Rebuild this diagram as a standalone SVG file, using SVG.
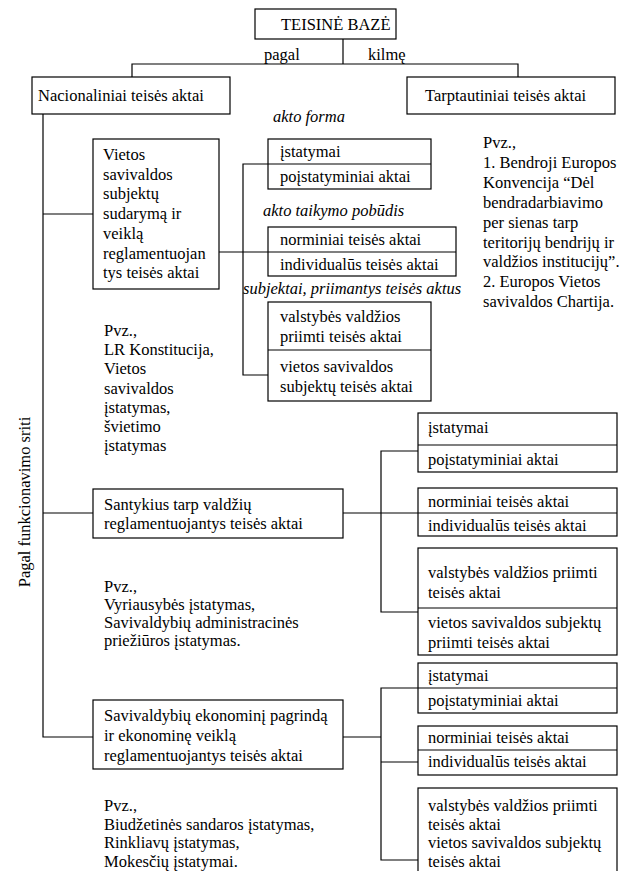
<svg xmlns="http://www.w3.org/2000/svg" width="620" height="871" viewBox="0 0 620 871">
<style>
text{font-family:"Liberation Serif","Times New Roman",serif;font-size:16.5px;fill:#000}
.i{font-style:italic}
.b{fill:#fff;stroke:#000;stroke-width:1.2}
.l{fill:none;stroke:#000;stroke-width:1.2}
</style>
<rect width="620" height="871" fill="#fff"/>
<g id="connectors" class="l">
<path d="M343,39 V64"/>
<path d="M132,77 V64 H518 V77"/>
<path d="M43,114 V737 H93"/>
<path d="M43,214 H93"/>
<path d="M43,513 H93"/>
<path d="M219,252 H268"/>
<path d="M268,164 H243 V375 H268"/>
<path d="M343,513 H418"/>
<path d="M418,451 H381 V612 H418"/>
<path d="M343,737 H381"/>
<path d="M418,688 H381 V860 H418"/>
<path d="M381,762 H418"/>
</g>
<g id="labels">
<text x="264" y="60">pagal</text>
<text x="368" y="60">kilmę</text>
<text class="i" x="273" y="122">akto forma</text>
<text class="i" x="263" y="216">akto taikymo pobūdis</text>
<text class="i" x="243" y="294">subjektai, priimantys teisės aktus</text>
<text transform="translate(30,502) rotate(-90)" text-anchor="middle">Pagal funkcionavimo sriti</text>
</g>
<g id="root"><rect class="b" x="255" y="9" width="141" height="30"/><text x="281" y="30">TEISINĖ BAZĖ</text></g>
<g id="nacionaliniai"><rect class="b" x="32" y="77" width="198" height="37"/><text x="38" y="101">Nacionaliniai teisės aktai</text></g>
<g id="tarptautiniai"><rect class="b" x="407" y="77" width="208" height="37"/><text x="425" y="101">Tarptautiniai teisės aktai</text></g>
<g id="vietos"><rect class="b" x="93" y="139" width="126" height="150"/>
<text x="103" y="160">Vietos<tspan x="103" dy="19.7">savivaldos</tspan><tspan x="103" dy="19.7">subjektų</tspan><tspan x="103" dy="19.7">sudarymą ir</tspan><tspan x="103" dy="19.7">veiklą</tspan><tspan x="103" dy="19.7">reglamentuojan</tspan><tspan x="103" dy="19.7">tys teisės aktai</tspan></text></g>
<g id="g1-forma"><rect class="b" x="268" y="139" width="163" height="50"/><path class="l" d="M268,164 H431"/>
<text x="280" y="157">įstatymai</text><text x="280" y="182">poįstatyminiai aktai</text></g>
<g id="g1-taikymas"><rect class="b" x="268" y="227" width="188" height="49"/><path class="l" d="M268,252 H456"/>
<text x="280" y="245">norminiai teisės aktai</text><text x="280" y="270">individualūs teisės aktai</text></g>
<g id="g1-subjektai"><rect class="b" x="268" y="302" width="163" height="99"/><path class="l" d="M268,350 H431"/>
<text x="280" y="322">valstybės valdžios<tspan x="280" dy="20">priimti teisės aktai</tspan></text>
<text x="280" y="372">vietos savivaldos<tspan x="280" dy="20">subjektų teisės aktai</tspan></text></g>
<g id="pvz-tarpt"><text x="483" y="148">Pvz.,<tspan x="483" dy="19.9">1. Bendroji Europos</tspan><tspan x="483" dy="19.9">Konvencija “Dėl</tspan><tspan x="483" dy="19.9">bendradarbiavimo</tspan><tspan x="483" dy="19.9">per sienas tarp</tspan><tspan x="483" dy="19.9">teritorijų bendrijų ir</tspan><tspan x="483" dy="19.9">valdžios institucijų”.</tspan><tspan x="483" dy="19.9">2. Europos Vietos</tspan><tspan x="483" dy="19.9">savivaldos Chartija.</tspan></text></g>
<g id="pvz-1"><text x="104" y="336">Pvz.,<tspan x="104" dy="19.2">LR Konstitucija,</tspan><tspan x="104" dy="19.2">Vietos</tspan><tspan x="104" dy="19.2">savivaldos</tspan><tspan x="104" dy="19.2">įstatymas,</tspan><tspan x="104" dy="19.2">švietimo</tspan><tspan x="104" dy="19.2">įstatymas</tspan></text></g>
<g id="santykius"><rect class="b" x="93" y="489" width="250" height="49"/>
<text x="104" y="510">Santykius tarp valdžių<tspan x="104" dy="19">reglamentuojantys teisės aktai</tspan></text></g>
<g id="g2-forma"><rect class="b" x="418" y="413" width="199" height="59"/><path class="l" d="M418,445 H617"/>
<text x="428" y="433">įstatymai</text><text x="428" y="465">poįstatyminiai aktai</text></g>
<g id="g2-taikymas"><rect class="b" x="418" y="488" width="199" height="48"/><path class="l" d="M418,513 H617"/>
<text x="428" y="507">norminiai teisės aktai</text><text x="428" y="531">individualūs teisės aktai</text></g>
<g id="g2-subjektai"><rect class="b" x="418" y="548" width="199" height="107"/><path class="l" d="M418,608 H617"/>
<text x="428" y="578">valstybės valdžios priimti<tspan x="428" dy="20">teisės aktai</tspan></text>
<text x="428" y="628">vietos savivaldos subjektų<tspan x="428" dy="20">priimti teisės aktai</tspan></text></g>
<g id="pvz-2"><text x="104" y="592">Pvz.,<tspan x="104" dy="18">Vyriausybės įstatymas,</tspan><tspan x="104" dy="18">Savivaldybių administracinės</tspan><tspan x="104" dy="18">priežiūros įstatymas.</tspan></text></g>
<g id="ekonomika"><rect class="b" x="93" y="700" width="250" height="69"/>
<text x="104" y="721">Savivaldybių ekonominį pagrindą<tspan x="104" dy="20">ir ekonominę veiklą</tspan><tspan x="104" dy="20">reglamentuojantys teisės aktai</tspan></text></g>
<g id="g3-forma"><rect class="b" x="418" y="663" width="199" height="50"/><path class="l" d="M418,688 H617"/>
<text x="428" y="681">įstatymai</text><text x="428" y="706">poįstatyminiai aktai</text></g>
<g id="g3-taikymas"><rect class="b" x="418" y="726" width="199" height="49"/><path class="l" d="M418,750 H617"/>
<text x="428" y="743">norminiai teisės aktai</text><text x="428" y="767">individualūs teisės aktai</text></g>
<g id="g3-subjektai"><rect class="b" x="418" y="788" width="199" height="90"/>
<text x="428" y="811">valstybės valdžios priimti<tspan x="428" dy="18.7">teisės aktai</tspan><tspan x="428" dy="18.7">vietos savivaldos subjektų</tspan><tspan x="428" dy="18.7">teisės aktai</tspan></text></g>
<g id="pvz-3"><text x="104" y="811">Pvz.,<tspan x="104" dy="18.7">Biudžetinės sandaros įstatymas,</tspan><tspan x="104" dy="18.7">Rinkliavų įstatymas,</tspan><tspan x="104" dy="18.7">Mokesčių įstatymai.</tspan></text></g>
</svg>
